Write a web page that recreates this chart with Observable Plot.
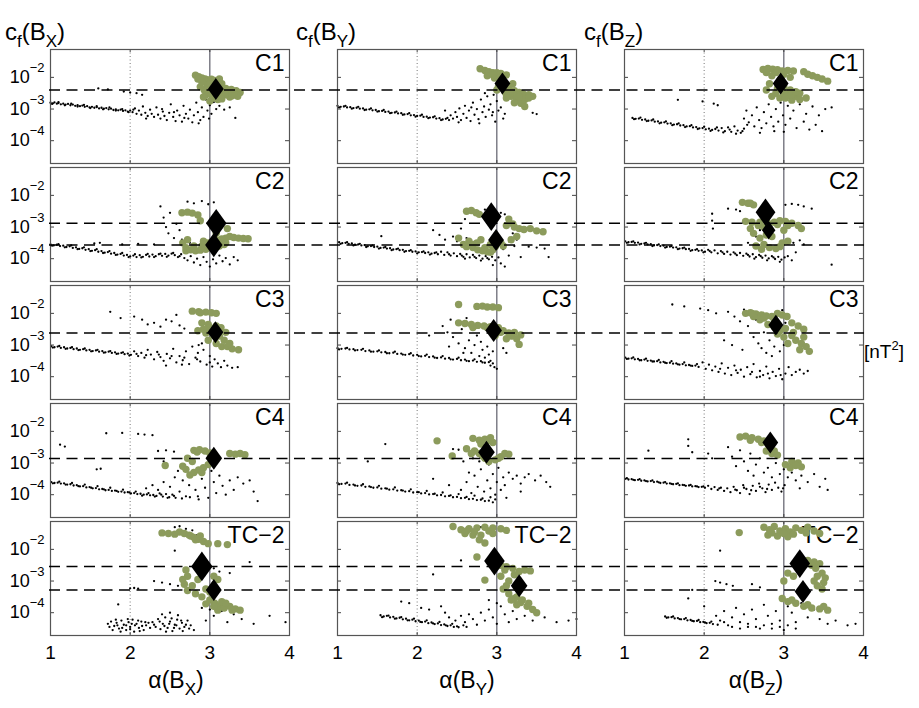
<!DOCTYPE html>
<html><head><meta charset="utf-8">
<script src="https://cdn.jsdelivr.net/npm/d3@7"></script>
<script src="https://cdn.jsdelivr.net/npm/@observablehq/plot@0.6"></script>
<style>
body{margin:0;background:#fff;font-family:"Liberation Sans",Arial,sans-serif;}
#wrap{position:relative;width:919px;height:708px;overflow:hidden}
#wrap svg{position:absolute;left:0;top:0}
.lab{position:absolute;white-space:nowrap;color:#000;line-height:1}
.t{font-size:24px}
.t .s{font-size:17px;position:relative;top:7px}
.xl{font-size:23px;transform:translateX(-50%)}
.xl .s{font-size:17px;position:relative;top:7px}
.u{font-size:19px}
.u .p{font-size:13px;position:relative;top:-8px}
</style></head><body><div id="wrap"></div>
<script>
const cols = ["X","Y","Z"];
const rows = ["C1","C2","C3","C4","TC−2"];
const xTicks = [1,2,3,4];
const yTicks = [1e-4,1e-3,1e-2];
const yExpDomain = [-4.72,-1.12];

// ---- small black points: [alpha, log10 cf] ----
const blackC1X = [[1.00,-2.80],[1.03,-2.82],[1.05,-2.79],[1.08,-2.83],[1.10,-2.81],[1.13,-2.85],[1.16,-2.83],[1.19,-2.86],[1.22,-2.84],[1.25,-2.88],[1.28,-2.86],[1.31,-2.90],[1.34,-2.88],[1.37,-2.91],[1.40,-2.89],[1.43,-2.93],[1.46,-2.91],[1.49,-2.95],[1.52,-2.93],[1.55,-2.96],[1.58,-2.94],[1.61,-2.98],[1.64,-2.96],[1.67,-2.99],[1.70,-2.97],[1.73,-3.01],[1.76,-2.99],[1.79,-3.03],[1.82,-3.01],[1.85,-3.04],[1.88,-3.02],[1.91,-3.06],[1.94,-3.04],[1.97,-3.08],[2.00,-3.05],
[1.02,-2.84],[1.10,-2.78],[1.18,-2.88],[1.26,-2.83],[1.34,-2.92],[1.42,-2.87],[1.50,-2.97],[1.58,-2.91],[1.66,-3.01],[1.74,-2.95],[1.82,-3.05],[1.90,-3.00],[1.98,-3.10],[2.04,-3.02],
[2.03,-3.10],[2.06,-2.98],[2.08,-3.15],[2.11,-3.05],[2.14,-3.18],[2.16,-2.92],[2.19,-3.12],[2.22,-3.22],[2.25,-3.02],[2.27,-3.15],[2.30,-3.25],[2.33,-2.95],[2.35,-3.18],[2.38,-3.30],[2.41,-3.08],[2.43,-3.22],[2.46,-3.35],[2.49,-3.12],[2.51,-2.85],[2.54,-3.25],[2.57,-3.38],[2.59,-3.05],[2.62,-3.20],[2.65,-3.40],[2.67,-2.90],[2.70,-3.15],[2.73,-3.30],[2.75,-3.02],[2.78,-3.42],[2.80,-3.20],[2.83,-2.80],[2.85,-3.10],[2.88,-3.35],[2.90,-2.95],[2.92,-3.25],[2.95,-2.70],[2.97,-3.05],[2.99,-3.30],[3.00,-2.88],[3.02,-3.15],[3.05,-2.78],[3.08,-3.00],[3.12,-2.90],[3.18,-3.02],[3.25,-2.95],[3.32,-3.28],[2.40,-3.00],[2.55,-3.10],[2.20,-3.30],[2.68,-3.28],[2.86,-3.45],
[1.60,-2.35],[1.72,-2.38],[1.92,-2.45],[2.00,-2.48],[2.08,-2.50],[2.15,-2.55]];
const blackC1Y = [[1.00,-2.90],[1.04,-2.93],[1.08,-2.92],[1.12,-2.95],[1.16,-2.94],[1.20,-2.97],[1.24,-2.96],[1.28,-2.99],[1.32,-2.98],[1.36,-3.02],[1.40,-3.01],[1.44,-3.04],[1.48,-3.03],[1.52,-3.07],[1.56,-3.06],[1.60,-3.09],[1.64,-3.08],[1.68,-3.12],[1.72,-3.11],[1.76,-3.14],[1.80,-3.13],[1.84,-3.17],[1.88,-3.16],[1.92,-3.20],[1.96,-3.19],[2.00,-3.22],[2.04,-3.21],[2.08,-3.25],[2.12,-3.24],[2.16,-3.27],[2.20,-3.26],[2.24,-3.30],[2.28,-3.29],[2.32,-3.33],[2.36,-3.31],[2.40,-3.35],
[1.02,-2.95],[1.10,-2.90],[1.18,-2.99],[1.26,-2.93],[1.34,-3.03],[1.42,-2.98],[1.50,-3.08],[1.58,-3.03],[1.66,-3.13],[1.74,-3.08],[1.82,-3.18],[1.90,-3.13],[1.98,-3.24],[2.06,-3.18],[2.14,-3.29],[2.22,-3.23],[2.30,-3.35],[2.38,-3.28],
[2.42,-3.20],[2.45,-3.30],[2.48,-3.10],[2.50,-3.25],[2.53,-2.98],[2.55,-3.35],[2.58,-3.15],[2.60,-2.90],[2.62,-3.28],[2.65,-3.05],[2.67,-3.38],[2.70,-2.80],[2.72,-3.18],[2.75,-3.00],[2.77,-3.32],[2.80,-2.70],[2.82,-3.10],[2.84,-2.92],[2.86,-3.25],[2.88,-2.60],[2.90,-3.02],[2.92,-2.85],[2.94,-3.20],[2.96,-2.55],[2.98,-3.40],[3.00,-2.75],[3.02,-3.05],[3.05,-2.95],[3.08,-3.30],[3.10,-3.15],[2.52,-3.42],[2.68,-2.95],[2.85,-2.50],[2.95,-3.10],[3.45,-3.12],[3.50,-3.16],[2.35,-3.05],[2.78,-3.45]];
const blackC1Z = [[1.10,-3.28],[1.14,-3.31],[1.18,-3.30],[1.22,-3.34],[1.26,-3.33],[1.30,-3.37],[1.34,-3.36],[1.38,-3.40],[1.42,-3.39],[1.46,-3.43],[1.50,-3.42],[1.54,-3.46],[1.58,-3.45],[1.62,-3.49],[1.66,-3.48],[1.70,-3.52],[1.74,-3.51],[1.78,-3.55],[1.82,-3.54],[1.86,-3.58],[1.90,-3.57],[1.94,-3.61],[1.98,-3.60],[2.02,-3.64],[2.06,-3.62],[2.10,-3.66],[2.14,-3.63],[2.18,-3.68],[2.22,-3.60],[2.26,-3.70],[2.30,-3.58],[2.34,-3.72],[2.38,-3.55],[2.42,-3.68],[2.46,-3.75],[2.50,-3.62],[2.54,-3.50],
[1.12,-3.32],[1.20,-3.27],[1.28,-3.38],[1.36,-3.33],[1.44,-3.45],[1.52,-3.39],[1.60,-3.51],[1.68,-3.45],[1.76,-3.57],[1.84,-3.51],[1.92,-3.63],[2.00,-3.56],[2.08,-3.69],[2.16,-3.58],[2.24,-3.74],[2.32,-3.65],[2.40,-3.78],[2.48,-3.70],
[2.50,-3.30],[2.53,-3.05],[2.56,-3.42],[2.60,-3.20],[2.63,-3.55],[2.66,-2.95],[2.69,-3.35],[2.72,-3.60],[2.75,-3.10],[2.78,-3.45],[2.81,-2.85],[2.84,-3.25],[2.87,-3.55],[2.90,-3.00],[2.93,-3.40],[2.96,-2.80],[2.99,-3.20],[3.02,-3.50],[3.05,-2.90],[3.08,-3.30],[3.12,-3.05],[3.16,-3.60],[3.20,-2.85],[3.25,-3.40],[3.28,-3.15],[3.32,-3.65],[3.36,-2.92],[3.40,-3.50],[3.44,-3.20],[3.48,-3.70],[3.52,-3.00],[3.60,-2.95],[2.70,-3.75],[2.88,-3.70],[3.00,-3.72],
[1.67,-2.71],[1.98,-2.76],[2.12,-2.83],[2.17,-2.88]];
const blackC2X = [[1.00,-3.55],[1.04,-3.58],[1.08,-3.56],[1.12,-3.60],[1.16,-3.59],[1.20,-3.63],[1.24,-3.61],[1.28,-3.66],[1.32,-3.64],[1.36,-3.69],[1.40,-3.67],[1.44,-3.72],[1.48,-3.70],[1.52,-3.75],[1.56,-3.73],[1.60,-3.78],[1.64,-3.76],[1.68,-3.81],[1.72,-3.79],[1.76,-3.84],[1.80,-3.82],[1.84,-3.87],[1.88,-3.85],[1.92,-3.90],[1.96,-3.88],[2.00,-3.93],[2.04,-3.90],[2.08,-3.95],[2.12,-3.89],[2.16,-3.94],[2.20,-3.88],[2.24,-3.93],[2.28,-3.87],[2.32,-3.92],[2.36,-3.86],[2.40,-3.91],[2.44,-3.85],[2.48,-3.90],[2.52,-3.84],[2.56,-3.89],[2.60,-3.95],[2.64,-3.86],
[1.02,-3.59],[1.10,-3.54],[1.18,-3.64],[1.26,-3.58],[1.34,-3.70],[1.42,-3.64],[1.50,-3.76],[1.58,-3.70],[1.66,-3.82],[1.74,-3.76],[1.82,-3.88],[1.90,-3.82],[1.98,-3.95],[2.06,-3.86],[2.14,-3.96],[2.22,-3.85],[2.30,-3.95],[2.38,-3.84],[2.46,-3.94],[2.54,-3.82],[2.62,-3.92],
[2.68,-3.98],[2.72,-4.05],[2.76,-3.92],[2.80,-4.12],[2.84,-4.00],[2.88,-4.20],[2.92,-3.95],[2.96,-4.10],[3.00,-4.25],[3.04,-4.02],[3.08,-4.15],[3.12,-3.90],[3.16,-4.08],[3.20,-3.98],[3.25,-4.18],[3.30,-3.95],[3.35,-4.05],
[1.55,-3.52],[1.62,-3.50],[1.90,-3.55],[2.10,-3.53],[2.30,-3.55],[2.38,-2.35],[2.42,-2.70],[2.45,-3.00],[2.48,-3.20],[2.50,-2.55],[2.55,-3.35],[2.58,-2.90],[2.62,-3.10],[2.72,-2.20],[2.80,-2.25],[2.90,-2.18],[2.98,-2.28],[3.05,-2.22],[2.65,-3.40],[2.75,-3.50]];
const blackC2Y = [[1.02,-3.48],[1.06,-3.51],[1.10,-3.50],[1.14,-3.53],[1.18,-3.52],[1.22,-3.56],[1.26,-3.55],[1.30,-3.58],[1.34,-3.57],[1.38,-3.61],[1.42,-3.60],[1.46,-3.63],[1.50,-3.62],[1.54,-3.66],[1.58,-3.65],[1.62,-3.68],[1.66,-3.67],[1.70,-3.71],[1.74,-3.70],[1.78,-3.73],[1.82,-3.72],[1.86,-3.76],[1.90,-3.75],[1.94,-3.78],[1.98,-3.77],[2.02,-3.80],[2.06,-3.79],[2.10,-3.82],[2.14,-3.80],[2.18,-3.84],[2.22,-3.82],[2.26,-3.86],[2.30,-3.78],[2.34,-3.88],[2.38,-3.80],[2.42,-3.90],[2.46,-3.83],[2.50,-3.92],[2.54,-3.85],[2.58,-3.94],[2.62,-3.86],[2.66,-3.96],[2.70,-3.88],[2.74,-3.98],[2.78,-3.90],[2.82,-4.00],[2.86,-3.92],[2.90,-4.02],[2.94,-3.94],[2.98,-4.05],[3.02,-3.96],
[1.04,-3.53],[1.12,-3.48],[1.20,-3.58],[1.28,-3.53],[1.36,-3.63],[1.44,-3.58],[1.52,-3.68],[1.60,-3.63],[1.68,-3.73],[1.76,-3.68],[1.84,-3.78],[1.92,-3.73],[2.00,-3.83],[2.08,-3.77],[2.16,-3.87],[2.24,-3.80],[2.40,-3.86],[2.56,-3.90],[2.72,-3.94],[2.88,-3.98],[2.60,-4.00],[2.80,-4.06],
[3.08,-3.70],[3.15,-3.90],[3.22,-3.60],[3.30,-3.95],[3.40,-3.62],[3.50,-3.65],[3.60,-3.68],[3.65,-3.95],[3.05,-4.15],[2.95,-4.20],[3.10,-4.25],
[1.55,-3.29],[2.20,-3.10],[2.28,-3.25],[2.35,-3.40],[2.45,-3.30],[2.50,-3.45],[2.55,-3.05],[2.60,-2.75],[2.62,-3.35],[2.75,-2.50],[2.85,-2.45],[3.05,-2.55],[3.10,-2.60],[3.15,-2.90],[3.20,-3.20],[3.25,-3.40]];
const blackC2Z = [[1.01,-3.45],[1.05,-3.48],[1.09,-3.47],[1.13,-3.50],[1.17,-3.49],[1.21,-3.53],[1.25,-3.52],[1.29,-3.55],[1.33,-3.54],[1.37,-3.58],[1.41,-3.57],[1.45,-3.60],[1.49,-3.59],[1.53,-3.63],[1.57,-3.62],[1.61,-3.65],[1.65,-3.64],[1.69,-3.68],[1.73,-3.67],[1.77,-3.70],[1.81,-3.69],[1.85,-3.73],[1.89,-3.72],[1.93,-3.75],[1.97,-3.74],[2.01,-3.78],[2.05,-3.72],[2.09,-3.80],[2.13,-3.74],[2.17,-3.83],[2.21,-3.76],[2.25,-3.85],[2.29,-3.78],[2.33,-3.87],[2.37,-3.80],[2.41,-3.89],[2.45,-3.82],[2.49,-3.91],[2.53,-3.84],[2.57,-3.93],[2.61,-3.86],[2.65,-3.95],[2.69,-3.88],[2.73,-3.97],[2.77,-3.90],[2.81,-3.99],[2.85,-3.92],[2.89,-4.01],[2.93,-3.94],[2.97,-4.03],[3.01,-3.96],[3.05,-3.92],
[1.03,-3.50],[1.11,-3.45],[1.19,-3.55],[1.27,-3.50],[1.35,-3.60],[1.43,-3.55],[1.51,-3.65],[1.59,-3.60],[1.67,-3.70],[1.75,-3.65],[1.83,-3.75],[1.91,-3.70],[1.99,-3.80],[2.07,-3.76],[2.23,-3.80],[2.39,-3.84],[2.55,-3.88],[2.71,-3.92],[2.87,-3.96],[2.79,-4.05],[2.63,-4.00],
[2.10,-2.58],[2.10,-2.80],[2.11,-3.05],[2.30,-2.42],[2.40,-2.45],[2.45,-2.50],[3.02,-2.30],[3.10,-2.27],[3.18,-2.30],[3.25,-2.35],[3.35,-2.42],[3.06,-3.45],[3.12,-3.50],[3.20,-3.42],[3.25,-3.55],[3.60,-4.19],[3.10,-4.05],[2.95,-4.10],[3.15,-3.80],[2.55,-3.50],[2.65,-3.30],[2.70,-3.10]];
const blackC3X = [[1.01,-3.04],[1.05,-3.07],[1.09,-3.05],[1.13,-3.09],[1.17,-3.07],[1.21,-3.11],[1.25,-3.09],[1.29,-3.13],[1.33,-3.11],[1.37,-3.15],[1.41,-3.13],[1.45,-3.17],[1.49,-3.15],[1.53,-3.19],[1.57,-3.17],[1.61,-3.21],[1.65,-3.19],[1.69,-3.23],[1.73,-3.21],[1.77,-3.25],[1.81,-3.23],[1.85,-3.27],[1.89,-3.25],[1.93,-3.29],[1.97,-3.27],[2.01,-3.31],
[1.03,-3.08],[1.11,-3.03],[1.19,-3.12],[1.27,-3.07],[1.35,-3.16],[1.43,-3.11],[1.51,-3.20],[1.59,-3.15],[1.67,-3.24],[1.75,-3.19],[1.83,-3.28],[1.91,-3.23],[1.99,-3.33],[2.08,-3.28],[2.20,-3.32],[2.36,-3.30],[2.52,-3.35],[2.68,-3.40],[2.84,-3.45],[3.00,-3.55],
[2.05,-3.20],[2.10,-3.35],[2.14,-3.25],[2.18,-3.40],[2.22,-3.15],[2.26,-3.30],[2.30,-3.45],[2.34,-3.22],[2.38,-3.38],[2.42,-3.50],[2.46,-3.28],[2.50,-3.42],[2.54,-3.12],[2.58,-3.55],[2.62,-3.35],[2.66,-3.48],[2.70,-3.20],[2.74,-3.60],[2.78,-3.05],[2.82,-3.40],[2.85,-3.25],[2.88,-3.52],[2.92,-3.15],[2.96,-3.62],[3.00,-3.35],[3.03,-3.68],[3.06,-3.45],[3.10,-3.58],[3.14,-3.70],[3.18,-3.50],[3.22,-3.65],[3.28,-3.72],[3.35,-3.70],[2.45,-3.65],[2.65,-3.62],[2.90,-2.95],[2.86,-3.00],
[1.75,-1.95],[1.88,-2.15],[2.05,-2.10],[2.15,-2.20],[2.22,-2.35],[2.30,-2.30],[2.38,-2.42],[2.45,-2.20],[2.52,-2.25],[2.58,-2.05],[2.62,-2.38],[2.68,-2.48]];
const blackC3Y = [[1.00,-3.10],[1.05,-3.12],[1.10,-3.11],[1.15,-3.14],[1.20,-3.13],[1.25,-3.16],[1.30,-3.15],[1.35,-3.19],[1.40,-3.17],[1.45,-3.21],[1.50,-3.20],[1.55,-3.23],[1.60,-3.22],[1.65,-3.26],[1.70,-3.24],[1.75,-3.28],[1.80,-3.27],[1.85,-3.31],[1.90,-3.29],[1.95,-3.33],[2.00,-3.31],[2.05,-3.36],[2.10,-3.34],[2.15,-3.38],[2.20,-3.36],[2.25,-3.41],[2.30,-3.39],[2.35,-3.43],[2.40,-3.41],[2.45,-3.46],[2.50,-3.44],[2.55,-3.48],[2.60,-3.46],[2.65,-3.51],[2.70,-3.49],[2.75,-3.53],[2.80,-3.51],[2.85,-3.56],[2.90,-3.54],[2.95,-3.58],
[1.02,-3.14],[1.12,-3.09],[1.22,-3.17],[1.32,-3.12],[1.42,-3.21],[1.52,-3.17],[1.62,-3.26],[1.72,-3.21],[1.82,-3.30],[1.92,-3.26],[2.02,-3.35],[2.12,-3.30],[2.22,-3.40],[2.32,-3.35],[2.42,-3.45],[2.52,-3.40],[2.62,-3.50],[2.72,-3.45],[2.82,-3.55],[2.92,-3.50],
[2.32,-2.40],[2.38,-2.60],[2.42,-2.20],[2.45,-2.75],[2.50,-2.30],[2.52,-2.95],[2.56,-2.50],[2.60,-3.10],[2.62,-2.15],[2.65,-2.85],[2.68,-3.25],[2.70,-2.45],[2.72,-3.00],[2.75,-2.70],[2.78,-3.35],[2.80,-2.90],[2.82,-3.15],[2.85,-3.40],[2.88,-3.05],[2.90,-3.30],[2.92,-3.65],[2.95,-3.20],[2.97,-3.70],[3.00,-3.75],[2.40,-3.05],[2.58,-3.25],[2.15,-2.70],[3.08,-3.10],[3.12,-3.25]];
const blackC3Z = [[1.01,-3.40],[1.05,-3.43],[1.09,-3.42],[1.13,-3.45],[1.17,-3.44],[1.21,-3.48],[1.25,-3.46],[1.29,-3.50],[1.33,-3.49],[1.37,-3.52],[1.41,-3.51],[1.45,-3.55],[1.49,-3.53],[1.53,-3.57],[1.57,-3.56],[1.61,-3.59],[1.65,-3.58],[1.69,-3.62],[1.73,-3.60],[1.77,-3.64],[1.81,-3.63],[1.85,-3.66],[1.89,-3.65],[1.93,-3.69],
[1.03,-3.44],[1.11,-3.39],[1.19,-3.48],[1.27,-3.43],[1.35,-3.52],[1.43,-3.47],[1.51,-3.56],[1.59,-3.51],[1.67,-3.61],[1.75,-3.55],[1.83,-3.65],[1.91,-3.60],[2.20,-3.75],[2.40,-3.80],[2.60,-3.85],[2.80,-3.90],[2.96,-3.95],[2.70,-4.00],
[1.98,-3.55],[2.02,-3.75],[2.06,-3.62],[2.10,-3.80],[2.14,-3.68],[2.18,-3.85],[2.22,-3.58],[2.26,-3.90],[2.30,-3.72],[2.34,-3.95],[2.38,-3.65],[2.42,-3.88],[2.46,-3.78],[2.50,-4.00],[2.54,-3.70],[2.58,-3.92],[2.62,-3.60],[2.66,-4.02],[2.70,-3.82],[2.74,-3.95],[2.78,-3.68],[2.82,-4.05],[2.86,-3.85],[2.90,-3.98],[2.94,-3.75],[2.98,-4.08],[3.02,-3.90],[3.06,-3.70],[3.10,-3.95],[3.15,-3.85],[3.20,-3.78],[3.25,-3.90],[3.30,-3.82],
[1.60,-1.72],[1.75,-1.78],[1.95,-1.85],[2.05,-1.90],[2.15,-2.00],[2.30,-1.95],[2.38,-2.10],[2.45,-2.25],[2.50,-1.88],[2.55,-2.40],[2.58,-2.05],[2.62,-2.75],[2.65,-2.20],[2.68,-2.95],[2.72,-3.10],[2.75,-2.60],[2.78,-3.25],[2.82,-2.85],[2.85,-3.35],[2.88,-3.05],[2.92,-2.70],[2.95,-3.20],[2.98,-1.90],[3.00,-3.00],[3.02,-2.30],[2.35,-3.00],[2.48,-3.15],[2.25,-2.85]];
const blackC4X = [[1.01,-3.60],[1.05,-3.63],[1.09,-3.62],[1.13,-3.65],[1.17,-3.64],[1.21,-3.68],[1.25,-3.67],[1.29,-3.71],[1.33,-3.70],[1.37,-3.74],[1.41,-3.73],[1.45,-3.77],[1.49,-3.76],[1.53,-3.80],[1.57,-3.79],[1.61,-3.83],[1.65,-3.82],[1.69,-3.86],[1.73,-3.85],[1.77,-3.88],[1.81,-3.87],[1.85,-3.91],[1.89,-3.90],[1.93,-3.93],[1.97,-3.92],[2.01,-3.96],[2.05,-3.95],[2.09,-3.98],[2.13,-3.97],[2.17,-4.00],[2.21,-3.99],[2.25,-4.02],[2.29,-4.01],[2.33,-4.04],[2.37,-3.96],[2.41,-4.06],[2.45,-3.98],[2.49,-4.08],[2.53,-4.00],[2.57,-4.10],
[1.03,-3.64],[1.11,-3.59],[1.19,-3.68],[1.27,-3.63],[1.35,-3.73],[1.43,-3.68],[1.51,-3.78],[1.59,-3.73],[1.67,-3.83],[1.75,-3.78],[1.83,-3.88],[1.91,-3.84],[1.99,-3.93],[2.07,-3.90],[2.15,-4.03],[2.23,-3.95],[2.31,-4.06],[2.39,-4.00],[2.47,-4.10],[2.55,-4.04],[2.65,-4.12],[2.75,-4.08],[2.85,-4.05],
[2.20,-3.80],[2.28,-3.70],[2.35,-3.85],[2.42,-3.60],[2.50,-3.75],[2.56,-3.45],[2.62,-3.90],[2.66,-3.55],[2.70,-4.05],[2.74,-3.70],[2.78,-3.35],[2.82,-3.85],[2.86,-4.15],[2.90,-3.50],[2.94,-3.78],[2.98,-4.10],[3.02,-3.25],[3.05,-3.60],[3.08,-3.95],[3.12,-3.40],[3.16,-3.72],[3.20,-4.00],[3.25,-3.55],[3.30,-3.85],[3.35,-3.45],[3.42,-3.65],[3.50,-3.55],[3.55,-3.90],[3.60,-4.20],[2.88,-3.15],[2.60,-3.25],
[1.12,-2.42],[1.18,-2.48],[1.70,-2.06],[1.90,-2.05],[2.10,-2.08],[2.18,-2.10],[2.28,-2.12],[1.58,-3.20],[1.63,-3.18],[2.35,-2.62],[2.45,-2.60],[2.55,-2.64],[2.42,-2.95],[2.45,-3.08]];
const blackC4Y = [[1.00,-3.63],[1.05,-3.66],[1.10,-3.65],[1.15,-3.69],[1.20,-3.68],[1.25,-3.72],[1.30,-3.71],[1.35,-3.75],[1.40,-3.74],[1.45,-3.78],[1.50,-3.77],[1.55,-3.81],[1.60,-3.80],[1.65,-3.84],[1.70,-3.83],[1.75,-3.87],[1.80,-3.86],[1.85,-3.90],[1.90,-3.89],[1.95,-3.93],[2.00,-3.92],[2.05,-3.96],[2.10,-3.95],[2.15,-3.99],[2.20,-3.98],[2.25,-4.02],[2.30,-4.01],[2.35,-4.05],[2.40,-4.04],[2.45,-4.08],[2.50,-4.07],[2.55,-4.11],[2.60,-4.10],[2.65,-4.14],[2.70,-4.13],[2.75,-4.17],[2.80,-4.16],[2.85,-4.20],[2.90,-4.19],[2.95,-4.24],
[1.02,-3.67],[1.12,-3.62],[1.22,-3.71],[1.32,-3.67],[1.42,-3.76],[1.52,-3.72],[1.62,-3.81],[1.72,-3.77],[1.82,-3.87],[1.92,-3.83],[2.02,-3.92],[2.12,-3.88],[2.22,-3.97],[2.32,-3.93],[2.42,-4.02],[2.52,-3.98],[2.62,-4.07],[2.72,-4.03],[2.82,-4.12],[2.92,-4.08],[2.98,-4.15],
[2.55,-3.85],[2.62,-3.60],[2.68,-3.95],[2.72,-3.40],[2.76,-3.75],[2.80,-3.20],[2.84,-3.90],[2.88,-3.55],[2.90,-3.05],[2.92,-3.80],[2.95,-3.35],[2.98,-4.00],[3.00,-3.60],[3.02,-3.15],[3.05,-3.85],[3.08,-3.45],[3.10,-3.70],[3.12,-4.10],[3.15,-3.30],[3.20,-3.50],[3.25,-3.40],[3.30,-3.65],[3.35,-3.45],[3.40,-3.35],[3.48,-3.55],[3.55,-3.40],[3.62,-3.60],[3.67,-3.75],[3.30,-3.90],[2.65,-3.30],[2.78,-2.95],
[1.60,-2.40],[1.38,-2.95],[2.45,-2.56],[2.52,-2.58],[2.60,-2.60],[2.66,-2.75],[2.70,-2.85],[2.58,-2.95],[2.40,-3.70],[2.20,-3.50]];
const blackC4Z = [[1.01,-3.50],[1.05,-3.52],[1.09,-3.51],[1.13,-3.54],[1.17,-3.53],[1.21,-3.56],[1.25,-3.55],[1.29,-3.58],[1.33,-3.57],[1.37,-3.60],[1.41,-3.59],[1.45,-3.63],[1.49,-3.62],[1.53,-3.65],[1.57,-3.64],[1.61,-3.67],[1.65,-3.66],[1.69,-3.70],[1.73,-3.69],[1.77,-3.72],[1.81,-3.71],[1.85,-3.74],[1.89,-3.73],[1.93,-3.76],[1.97,-3.75],[2.01,-3.78],[2.05,-3.72],[2.09,-3.82],[2.13,-3.76],[2.17,-3.85],[2.21,-3.78],[2.25,-3.88],[2.29,-3.80],[2.33,-3.92],[2.37,-3.75],[2.41,-3.86],[2.45,-3.95],[2.49,-3.70],[2.53,-3.82],[2.57,-3.98],[2.61,-3.72],[2.65,-3.88],[2.69,-3.65],[2.73,-3.80],[2.77,-3.92],[2.81,-3.68],[2.85,-3.85],[2.89,-3.62],[2.93,-3.78],[2.97,-3.90],[3.01,-3.70],
[1.03,-3.48],[1.11,-3.53],[1.19,-3.51],[1.27,-3.57],[1.35,-3.55],[1.43,-3.61],[1.51,-3.60],[1.59,-3.66],[1.67,-3.64],[1.75,-3.70],[1.83,-3.69],[1.91,-3.74],[1.99,-3.74],[2.19,-3.80],[2.39,-3.84],[2.59,-3.86],[2.79,-3.82],[2.99,-3.80],[2.70,-3.75],[2.50,-3.78],
[1.30,-2.61],[1.80,-2.25],[1.80,-2.46],[1.85,-2.66],[2.05,-2.70],[2.10,-2.85],[2.30,-2.50],[2.35,-2.80],[2.40,-3.10],[2.45,-2.60],[2.50,-2.95],[2.55,-3.25],[2.58,-2.70],[2.62,-3.40],[2.65,-3.05],[2.70,-2.85],[2.75,-3.30],[2.80,-3.15],[2.85,-3.45],[2.90,-3.00],[2.95,-3.35],[3.00,-3.20],[3.05,-3.45],[3.10,-3.30],[3.15,-3.55],[3.22,-3.40],[3.30,-3.60],[3.38,-3.35],[3.45,-3.75],[3.52,-3.50],[3.55,-3.85],[3.20,-3.80]];
const blackT2X = [[1.72,-4.35],[1.76,-4.28],[1.80,-4.42],[1.83,-4.32],[1.86,-4.50],[1.89,-4.25],[1.92,-4.38],[1.95,-4.55],[1.98,-4.30],[2.00,-4.45],[2.03,-4.22],[2.05,-4.60],[2.08,-4.35],[2.11,-4.48],[2.14,-4.28],[2.17,-4.55],[2.20,-4.40],[2.23,-4.32],[1.78,-4.55],[1.88,-4.60],[1.95,-4.40],[2.02,-4.35],[2.10,-4.25],[2.15,-4.42],
[1.74,-4.45],[1.82,-4.22],[1.90,-4.48],[1.97,-4.20],[2.06,-4.40],[2.12,-4.58],[2.19,-4.30],[2.25,-4.48],[2.30,-4.38],[2.37,-4.28],[2.43,-4.42],[2.49,-4.35],[2.52,-4.18],[2.58,-4.40],[2.64,-4.25],[2.70,-4.38],[2.74,-4.50],[2.66,-4.58],[1.84,-4.40],[2.00,-4.52],
[2.28,-4.30],[2.32,-4.45],[2.35,-4.20],[2.38,-4.52],[2.41,-4.35],[2.44,-4.15],[2.47,-4.48],[2.50,-4.28],[2.53,-4.58],[2.56,-4.38],[2.59,-4.22],[2.62,-4.50],[2.65,-4.32],[2.68,-4.45],[2.72,-4.25],[2.76,-4.40],[2.80,-4.55],[2.40,-4.05],[2.50,-4.00],[2.60,-4.08],[2.45,-4.60],[2.55,-4.48],
[2.56,-1.30],[2.62,-1.27],[2.70,-1.35],[2.78,-1.40],[2.84,-1.55],[2.56,-2.04],[2.00,-3.23],[2.05,-3.22],[2.10,-3.24],[2.30,-3.00],[2.40,-3.05],[2.50,-3.10],[2.60,-3.15],[2.68,-3.02],[3.05,-2.60],[3.12,-2.70],[3.25,-2.75],[3.50,-2.40],[3.00,-3.90],[3.05,-4.10],[3.15,-3.95],[3.22,-4.30],[3.30,-4.05],[3.40,-4.20],[3.55,-4.35],[3.75,-4.10],[3.95,-4.30],[1.85,-3.74],[2.90,-3.85],[2.95,-4.25]];
const blackT2Y = [[1.54,-4.08],[1.58,-4.12],[1.62,-4.10],[1.66,-4.15],[1.70,-4.13],[1.74,-4.18],[1.78,-4.16],[1.82,-4.21],[1.86,-4.19],[1.90,-4.24],[1.94,-4.22],[1.98,-4.27],[2.02,-4.25],[2.06,-4.30],[2.10,-4.28],[2.14,-4.33],[2.18,-4.31],[2.22,-4.36],[2.26,-4.34],[2.30,-4.39],[2.34,-4.37],[2.38,-4.42],[2.42,-4.40],[2.46,-4.45],[2.50,-4.43],
[1.56,-4.14],[1.64,-4.09],[1.72,-4.19],[1.80,-4.14],[1.88,-4.24],[1.96,-4.19],[2.04,-4.29],[2.12,-4.24],[2.20,-4.34],[2.28,-4.29],[2.36,-4.40],[2.44,-4.35],[2.52,-4.46],[2.58,-4.40],[2.62,-4.45],
[1.80,-3.65],[1.90,-3.70],[2.05,-3.85],[2.15,-3.90],[2.30,-3.80],[2.35,-4.00],[2.40,-4.15],[2.48,-4.25],[2.55,-4.10],[2.60,-4.30],[2.65,-4.05],[2.70,-4.20],[2.75,-4.38],[2.80,-4.00],[2.85,-4.25],[2.90,-3.90],[2.95,-4.15],[3.00,-4.35],[3.05,-3.80],[3.10,-4.05],[3.15,-4.30],[3.20,-3.95],[3.25,-4.20],[3.35,-4.10],[3.45,-4.25],[3.60,-4.15],[3.75,-4.30],[3.90,-4.25],[4.00,-4.20],[2.90,-3.60],[3.00,-3.70],
[2.80,-1.30],[2.88,-1.35],[2.95,-1.40],[2.55,-2.35],[2.20,-2.79],[2.70,-1.38]];
const blackT2Z = [[1.51,-4.12],[1.55,-4.15],[1.59,-4.14],[1.63,-4.18],[1.67,-4.17],[1.71,-4.21],[1.75,-4.20],[1.79,-4.24],[1.83,-4.23],[1.87,-4.27],[1.91,-4.26],[1.95,-4.30],[1.99,-4.29],[2.03,-4.33],[2.07,-4.32],[2.11,-4.36],
[1.53,-4.16],[1.61,-4.12],[1.69,-4.20],[1.77,-4.17],[1.85,-4.26],[1.93,-4.23],[2.01,-4.31],[2.09,-4.28],[2.17,-4.38],[2.25,-4.30],[2.35,-4.45],[2.45,-4.50],[2.55,-4.35],[2.65,-4.45],[2.75,-4.40],[2.85,-4.50],[2.95,-4.45],[3.05,-4.40],[3.15,-4.50],
[2.15,-4.10],[2.20,-4.25],[2.25,-3.95],[2.30,-4.40],[2.35,-4.15],[2.40,-3.85],[2.45,-4.30],[2.50,-4.05],[2.55,-4.45],[2.60,-3.90],[2.65,-4.20],[2.70,-4.50],[2.75,-3.75],[2.80,-4.10],[2.85,-4.35],[2.90,-3.95],[2.95,-4.25],[3.00,-4.55],[3.05,-3.80],[3.10,-4.00],[3.15,-4.30],[3.22,-3.70],[3.30,-4.15],[3.38,-3.90],[3.45,-4.20],[3.55,-4.35],[3.65,-4.25],[3.80,-4.40],[3.90,-4.35],[2.98,-3.60],[3.25,-3.50],
[2.14,-3.00],[2.20,-3.05],[2.28,-3.10],[2.36,-3.15],[1.85,-3.28],[1.80,-3.55],[2.20,-2.04],[2.60,-3.10],[2.70,-3.20],[2.00,-3.80]];

// ---- selected (green) points ----
const greenC1X = [[2.82,-1.93],[2.86,-1.98],[2.90,-2.02],[2.94,-2.05],[2.98,-2.08],[3.02,-2.06],[3.06,-2.10],[3.10,-2.15],[3.15,-2.20],[3.12,-2.30],[3.20,-2.35],[3.27,-2.38],[3.33,-2.42],[3.38,-2.48],[3.35,-2.60],[3.25,-2.62],[3.15,-2.55],[3.05,-2.65],[2.95,-2.55],[2.93,-2.40],[2.88,-2.30],[2.97,-2.25],[3.00,-2.75],[3.10,-2.70],[3.22,-2.48],[2.92,-2.62],
[3.00,-2.20],[3.05,-2.35],[3.10,-2.45],[3.18,-2.42],[2.98,-2.45],[3.02,-2.55],[3.20,-2.55],[3.30,-2.50],[2.90,-2.15],[3.08,-2.58],[3.15,-2.68],[3.28,-2.58],[2.85,-2.05],[3.12,-2.05]];
const greenC1Y = [[2.79,-1.73],[2.85,-1.78],[2.90,-1.82],[2.95,-1.85],[3.00,-1.85],[3.05,-1.88],[3.12,-1.92],[2.88,-1.95],[2.97,-2.02],[3.02,-2.30],[3.10,-2.35],[3.16,-2.40],[3.22,-2.42],[3.28,-2.48],[3.33,-2.52],[3.40,-2.55],[3.45,-2.60],[3.18,-2.60],[3.25,-2.70],[3.30,-2.82],[3.35,-2.92],[3.12,-2.55],[3.08,-2.15],[3.20,-2.20],
[3.10,-2.45],[3.20,-2.50],[3.25,-2.58],[3.15,-2.30],[3.35,-2.70],[3.40,-2.65],[3.28,-2.62],[3.05,-2.00],[2.95,-1.92],[3.12,-2.65],[3.22,-2.80],[3.00,-2.40]];
const greenC1Z = [[2.74,-1.75],[2.80,-1.72],[2.86,-1.74],[2.92,-1.76],[2.98,-1.80],[3.05,-1.78],[3.12,-1.80],[2.85,-1.95],[2.95,-2.10],[3.00,-2.30],[2.78,-2.40],[2.90,-2.50],[3.05,-2.55],[3.15,-2.60],[3.20,-2.70],[3.10,-2.72],[2.95,-2.65],[3.25,-1.82],[3.30,-1.90],[3.36,-1.95],[3.42,-2.00],[3.48,-2.05],[3.55,-2.12],[3.08,-2.40],[2.82,-2.20],
[2.78,-1.85],[2.90,-1.85],[3.00,-1.90],[3.08,-2.00],[3.00,-2.50],[3.10,-2.55],[2.85,-2.60],[3.20,-2.50],[3.28,-2.65],[2.92,-2.35],[3.15,-2.45],[3.02,-2.65]];
const greenC2X = [[2.65,-2.55],[2.72,-2.53],[2.78,-2.56],[2.85,-2.62],[2.88,-2.80],[2.66,-3.50],[2.70,-3.65],[2.76,-3.72],[2.82,-3.75],[2.88,-3.73],[2.95,-3.70],[3.05,-3.70],[3.12,-3.60],[3.15,-3.45],[3.20,-3.35],[3.25,-3.30],[3.30,-3.33],[3.36,-3.35],[3.42,-3.36],[3.48,-3.37],[3.18,-3.55],[2.72,-3.40],[3.22,-3.05],[2.98,-3.50],[3.08,-3.20],
[2.80,-3.60],[2.90,-3.60],[3.00,-3.62],[3.10,-3.50],[3.08,-3.40],[3.15,-3.38],[2.92,-3.45],[2.70,-3.75],[3.20,-3.50]];
const greenC2Y = [[2.62,-2.50],[2.68,-2.48],[2.74,-2.55],[2.78,-2.60],[3.15,-2.75],[3.12,-2.95],[3.22,-3.00],[3.28,-3.05],[3.34,-3.08],[3.42,-3.05],[3.50,-3.12],[3.58,-3.15],[3.18,-3.40],[2.52,-3.35],[2.58,-3.55],[2.65,-3.45],[2.70,-3.65],[2.76,-3.72],[2.82,-3.75],[2.88,-3.78],[2.95,-3.72],[2.80,-3.40],[2.92,-3.55],[3.05,-3.50],[3.25,-3.30],
[2.70,-3.55],[2.85,-3.65],[2.98,-3.62],[3.08,-3.60],[2.62,-3.62],[2.75,-3.50],[3.20,-2.90],[2.92,-3.80]];
const greenC2Z = [[2.48,-2.22],[2.55,-2.25],[2.62,-2.30],[2.52,-2.82],[2.60,-2.85],[2.68,-2.95],[2.75,-3.00],[2.80,-2.88],[2.88,-2.85],[2.95,-2.80],[3.02,-2.82],[3.10,-2.88],[3.18,-2.95],[3.22,-3.05],[3.00,-3.10],[2.62,-3.20],[2.70,-3.35],[2.75,-3.55],[2.82,-3.65],[2.90,-3.68],[2.98,-3.50],[3.05,-3.45],[2.85,-3.30],[2.65,-3.60],
[2.58,-3.05],[2.70,-2.85],[2.92,-2.92],[3.05,-2.95],[2.78,-3.25],[2.72,-3.70],[2.95,-3.62],[2.58,-2.25]];
const greenC3X = [[2.78,-1.93],[2.86,-1.95],[2.95,-1.96],[3.02,-1.98],[3.08,-2.00],[2.90,-2.30],[2.98,-2.35],[3.08,-2.40],[3.14,-2.45],[2.85,-2.55],[2.95,-2.62],[3.05,-2.70],[3.12,-2.72],[3.18,-2.85],[3.08,-2.95],[3.15,-3.05],[3.22,-3.05],[3.28,-3.12],[3.36,-3.15],[2.92,-2.50],[3.20,-2.60],
[3.00,-2.45],[3.12,-2.55],[2.98,-2.85],[3.25,-2.95],[2.88,-1.98],[3.05,-2.60]];
const greenC3Y = [[2.52,-1.72],[2.75,-1.78],[2.82,-1.77],[2.88,-1.80],[2.95,-1.80],[3.02,-1.82],[2.52,-2.30],[2.60,-2.32],[2.68,-2.35],[2.76,-2.38],[2.84,-2.40],[2.92,-2.42],[3.02,-2.45],[3.08,-2.55],[3.15,-2.62],[3.22,-2.60],[3.30,-2.68],[3.12,-2.80],[3.28,-2.98],[2.98,-2.70],
[2.95,-2.50],[3.05,-2.60],[3.18,-2.72],[2.88,-2.45],[2.70,-2.45],[3.25,-2.80]];
const greenC3Z = [[2.52,-2.00],[2.58,-1.98],[2.65,-2.02],[2.72,-2.05],[2.78,-2.08],[2.85,-2.10],[2.92,-2.00],[2.98,-2.05],[3.04,-2.10],[2.70,-2.20],[2.80,-2.35],[2.88,-2.42],[2.95,-2.55],[3.02,-2.48],[3.10,-2.30],[3.18,-2.40],[3.25,-2.50],[3.10,-2.70],[3.15,-2.85],[3.22,-2.95],[3.28,-3.05],[3.32,-3.20],[3.20,-3.15],[3.05,-2.95],
[2.62,-2.10],[2.75,-2.15],[2.88,-2.20],[2.92,-2.65],[3.00,-2.75],[3.12,-2.60],[3.25,-2.75],[2.60,-2.00]];
const greenC4X = [[2.80,-2.60],[2.87,-2.58],[2.94,-2.62],[3.00,-2.68],[2.44,-3.08],[2.66,-3.10],[2.75,-3.38],[2.80,-3.30],[2.86,-3.22],[2.92,-3.15],[2.98,-3.05],[3.08,-2.85],[3.25,-2.70],[3.32,-2.72],[3.38,-2.70],[3.44,-2.74],[2.72,-2.85],[2.78,-2.95],
[2.84,-2.65],[2.90,-3.30],[3.05,-2.75],[2.70,-3.20]];
const greenC4Y = [[2.25,-2.30],[2.44,-2.78],[2.70,-2.22],[2.78,-2.28],[2.85,-2.25],[2.92,-2.20],[2.95,-2.35],[2.72,-2.62],[2.78,-2.70],[2.85,-2.85],[2.90,-2.95],[2.98,-2.90],[3.05,-2.80],[3.10,-2.70],[3.15,-2.72],[2.62,-2.55],
[2.80,-2.40],[2.88,-2.30],[2.82,-2.78],[3.02,-2.85],[2.68,-2.70]];
const greenC4Z = [[2.45,-2.18],[2.52,-2.15],[2.60,-2.20],[2.68,-2.25],[2.75,-2.30],[2.80,-2.40],[2.78,-2.62],[2.85,-2.70],[2.92,-2.75],[3.02,-3.05],[3.10,-2.95],[3.18,-3.00],[3.22,-3.12],[3.08,-3.15],
[2.58,-2.28],[2.72,-2.35],[2.82,-2.55],[2.88,-2.62],[3.15,-3.08]];
const greenT2X = [[2.40,-1.48],[2.48,-1.50],[2.56,-1.52],[2.62,-1.45],[2.68,-1.50],[2.74,-1.55],[2.80,-1.62],[2.86,-1.68],[2.92,-1.75],[2.98,-1.82],[3.10,-1.82],[3.22,-1.85],[2.70,-2.65],[2.72,-2.85],[2.68,-3.10],[2.72,-3.30],[2.85,-2.95],[3.05,-2.85],[3.10,-2.95],[2.82,-3.40],[2.90,-3.50],[3.00,-3.60],[3.06,-3.70],[3.12,-3.78],[3.18,-3.85],[3.25,-3.80],[3.32,-3.88],[3.38,-3.92],[3.10,-3.92],[2.95,-3.72],
[2.76,-1.58],[2.88,-1.58],[2.82,-1.70],[2.66,-2.95],[2.78,-3.15],[2.95,-3.25],[3.00,-3.35],[3.15,-3.65],[3.20,-3.70],[3.05,-3.80],[3.28,-3.92]];
const greenT2Y = [[2.45,-1.28],[2.55,-1.38],[2.65,-1.35],[2.75,-1.32],[2.85,-1.30],[2.95,-1.32],[3.05,-1.35],[3.12,-1.40],[2.60,-1.50],[2.70,-1.55],[2.78,-1.70],[2.85,-1.80],[2.75,-2.24],[2.85,-2.97],[3.05,-2.50],[3.12,-2.55],[3.20,-2.60],[3.28,-2.70],[3.35,-2.65],[3.42,-2.68],[3.05,-2.85],[3.15,-3.00],[3.08,-3.25],[3.15,-3.40],[3.22,-3.55],[3.30,-3.68],[3.38,-3.80],[3.45,-3.90],[3.50,-4.00],[3.25,-3.75],
[2.62,-1.42],[2.72,-1.45],[2.90,-1.42],[2.80,-1.55],[3.10,-2.65],[3.22,-2.80],[3.12,-3.15],[3.25,-3.50],[3.32,-3.60],[3.40,-3.70],[3.18,-3.60],[2.95,-1.50]];
const greenT2Z = [[2.44,-1.47],[2.75,-1.30],[2.82,-1.38],[2.88,-1.28],[2.95,-1.42],[3.02,-1.35],[3.08,-1.45],[3.15,-1.32],[3.22,-1.40],[3.30,-1.30],[3.38,-1.42],[3.45,-1.50],[2.80,-1.55],[2.92,-1.58],[3.05,-1.60],[3.30,-2.35],[3.38,-2.40],[3.45,-2.45],[3.40,-2.60],[3.48,-2.75],[3.52,-2.90],[3.12,-2.85],[3.05,-2.75],[3.00,-3.00],[3.50,-3.05],[3.42,-3.15],[2.98,-3.55],[3.05,-3.65],[3.15,-3.70],[3.25,-3.80],[3.35,-3.85],[3.45,-3.88],[3.55,-3.92],
[2.85,-1.48],[3.00,-1.50],[3.12,-1.52],[3.28,-1.48],[3.35,-2.50],[3.25,-2.45],[3.42,-2.85],[3.48,-3.25],[3.38,-3.00],[3.10,-3.60],[3.30,-3.75],[3.50,-3.80]];

// ---- medians (diamonds): row, column, alpha, log10 cf, weight ----
const diamonds = [
 ["C1","X",3.075,-2.37,1.0],["C1","Y",3.07,-2.19,1.0],["C1","Z",2.96,-2.19,1.0],
 ["C2","X",3.08,-2.88,1.3],["C2","X",3.05,-3.57,1.1],["C2","Y",2.93,-2.67,1.3],["C2","Y",2.99,-3.41,1.0],["C2","Z",2.77,-2.53,1.25],["C2","Z",2.81,-3.10,0.85],
 ["C3","X",3.07,-2.60,1.0],["C3","Y",2.96,-2.54,1.05],["C3","Z",2.90,-2.37,0.95],
 ["C4","X",3.05,-2.85,1.05],["C4","Y",2.87,-2.66,1.05],["C4","Z",2.83,-2.35,1.0],
 ["TC−2","X",2.90,-2.54,1.35],["TC−2","X",3.05,-3.28,1.0],["TC−2","Y",2.97,-2.37,1.3],["TC−2","Y",3.28,-3.15,1.05],["TC−2","Z",3.20,-2.45,1.3],["TC−2","Z",3.24,-3.33,1.05]
];
// ---- reference levels (dashed): row, log10 cf ----
const levels = [["C1",-2.40],["C2",-2.88],["C2",-3.57],["C3",-2.62],["C4",-2.86],["TC−2",-2.54],["TC−2",-3.28]];

const blackSets = {C1:[blackC1X,blackC1Y,blackC1Z],C2:[blackC2X,blackC2Y,blackC2Z],C3:[blackC3X,blackC3Y,blackC3Z],C4:[blackC4X,blackC4Y,blackC4Z],"TC−2":[blackT2X,blackT2Y,blackT2Z]};
const greenSets = {C1:[greenC1X,greenC1Y,greenC1Z],C2:[greenC2X,greenC2Y,greenC2Z],C3:[greenC3X,greenC3Y,greenC3Z],C4:[greenC4X,greenC4Y,greenC4Z],"TC−2":[greenT2X,greenT2Y,greenT2Z]};

const toRows = sets => rows.flatMap(r => cols.flatMap((c,i) => sets[r][i].map(([a,e]) => ({row:r, col:c, a, v:10**e}))));
const blackData = toRows(blackSets);
const greenData = toRows(greenSets);
const diamondData = diamonds.map(([row,col,a,e,w]) => ({row,col,a,v:10**e,w}));
const levelData = levels.map(([row,e]) => ({row, v:10**e}));
const cells = rows.flatMap(r => cols.map(c => ({row:r, col:c})));

const tallDiamond = {draw(ctx, size){const r=Math.sqrt(size/Math.PI), w=r*0.72; ctx.moveTo(0,-r); ctx.lineTo(w,0); ctx.lineTo(0,r); ctx.lineTo(-w,0); ctx.closePath();}};

const FONT = '"Liberation Sans", Arial, sans-serif';
const yDom = yExpDomain.map(e => 10**e);
const fxOpt = {domain: cols, paddingInner: 48/288, paddingOuter: 0, axis: null};
const fyOpt = {domain: rows, paddingInner: 3.7/118.7, paddingOuter: 0, axis: null};
const M = {width:919, height:708, marginTop:47, marginBottom:71, marginLeft:49, marginRight:55};

const main = Plot.plot({
  ...M,
  style:{fontFamily:FONT, fontSize:"18px", background:"transparent", color:"#000"},
  x:{domain:[1,4]},
  y:{type:"log", domain:yDom},
  r:{type:"linear", domain:[0,1], range:[0,11]},
  fx: fxOpt, fy: fyOpt,
  marks:[
    Plot.ruleX([2], {stroke:"#777", strokeDasharray:"1,2.5"}),
    Plot.ruleX([3], {stroke:"#50505c", strokeWidth:1.1}),
    Plot.tickY(yTicks, {insetRight:235, stroke:"#444"}),
    Plot.tickY(yTicks, {insetLeft:235, stroke:"#444"}),
    Plot.tickX(xTicks, {insetBottom:111, stroke:"#444"}),
    Plot.tickX(xTicks, {insetTop:111, stroke:"#444"}),
    Plot.text(cells, {fx:"col", fy:"row", text:"row", frameAnchor:"top-right", lineAnchor:"top", dx:-5, dy:5, fontSize:23, fill:"#000"}),
    Plot.dot(blackData, {fx:"col", fy:"row", x:"a", y:"v", r:1.15, fill:"#000"}),
    Plot.dot(greenData, {fx:"col", fy:"row", x:"a", y:"v", r:3.7, fill:"#8c9b5c"}),
    Plot.dot(diamondData, {fx:"col", fy:"row", x:"a", y:"v", r:"w", symbol:tallDiamond, fill:"#000", sort:null}),
    Plot.frame({stroke:"#555", strokeWidth:1.2}),
    Plot.axisY({ticks:yTicks, tickFormat:d => "10^" + Math.round(Math.log10(d)), tickSize:0, tickPadding:6, fontSize:18, label:null}),
    Plot.axisX({ticks:xTicks, tickFormat:d => String(d), tickSize:0, tickPadding:10, fontSize:19, label:null})
  ]
});

const ns = "http://www.w3.org/2000/svg";
main.querySelectorAll('g[aria-label="y-axis tick label"] text').forEach(t => {
  const parts = t.textContent.split("^");
  if (parts.length < 2) return;
  t.textContent = "";
  const a = document.createElementNS(ns, "tspan"); a.textContent = parts[0];
  const b = document.createElementNS(ns, "tspan"); b.setAttribute("dy", "-11"); b.setAttribute("font-size", "13"); b.textContent = parts[1].replace("-", "−");
  t.append(a, b);
});

const dash = Plot.plot({
  ...M,
  style:{background:"transparent"},
  y:{type:"log", domain:yDom, axis:null},
  fy: fyOpt,
  marks:[Plot.ruleY(levelData, {fy:"row", y:"v", stroke:"#000", strokeWidth:1.5, strokeDasharray:"11,6.5"})]
});

const wrap = document.getElementById("wrap");
wrap.append(main, dash);

const colLeft = [5, 296, 584];
const colCenter = [176, 467, 756];
const sym = ["X","Y","Z"];
sym.forEach((s,i) => {
  const t = document.createElement("div");
  t.className = "lab t"; t.style.left = colLeft[i] + "px"; t.style.top = "20px";
  t.innerHTML = 'c<span class="s">f</span>(B<span class="s">' + s + '</span>)';
  wrap.append(t);
  const x = document.createElement("div");
  x.className = "lab xl"; x.style.left = colCenter[i] + "px"; x.style.top = "669px";
  x.innerHTML = 'α(B<span class="s">' + s + '</span>)';
  wrap.append(x);
});
const u = document.createElement("div");
u.className = "lab u"; u.style.left = "864px"; u.style.top = "342px";
u.innerHTML = '[nT<span class="p">2</span>]';
wrap.append(u);
</script></body></html>
